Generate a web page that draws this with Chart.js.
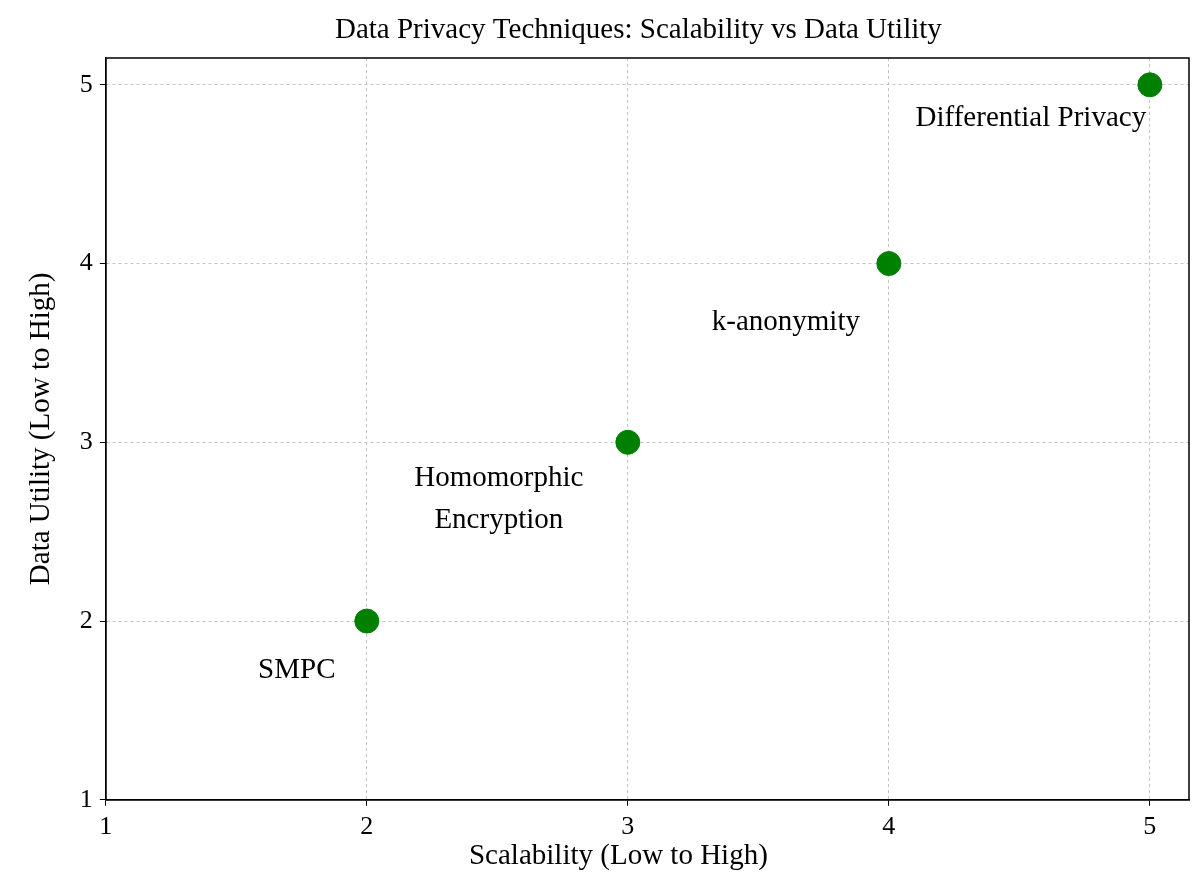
<!DOCTYPE html>
<html>
<head>
<meta charset="utf-8">
<script src="https://cdn.jsdelivr.net/npm/chart.js@4.4.1/dist/chart.umd.min.js"></script>
<style>
html,body{margin:0;padding:0;background:#fff;}
#wrap{width:1203px;height:877px;}
</style>
</head>
<body>
<div id="wrap"><canvas id="c" width="1203" height="877"></canvas></div>
<script>
const techniques = ["SMPC", "Homomorphic\nEncryption", "k-anonymity", "Differential Privacy"];
const scalability = [2, 3, 4, 5];
const dataUtility = [2, 3, 4, 5];
const tickValues = [1, 2, 3, 4, 5];
const chartTitle = 'Data Privacy Techniques: Scalability vs Data Utility';
const xTitle = 'Scalability (Low to High)';
const yTitle = 'Data Utility (Low to High)';
// label offsets in pixels (style only)
const labelOffsets = [[-70, 49], [-129, 36], [-103, 59], [-119, 34]];

const FONT = "'Liberation Serif', 'Times New Roman', 'DejaVu Serif', serif";

const labelPlugin = {
  id: 'labels',
  afterDatasetsDraw(chart) {
    const ctx = chart.ctx;
    const xs = chart.scales.x, ys = chart.scales.y;
    ctx.save();
    ctx.fillStyle = '#000';
    ctx.font = '29px ' + FONT;
    ctx.textAlign = 'center';
    ctx.textBaseline = 'middle';
    techniques.forEach((t, i) => {
      const px = xs.getPixelForValue(scalability[i]) + labelOffsets[i][0];
      const py = ys.getPixelForValue(dataUtility[i]) + labelOffsets[i][1];
      t.split('\n').forEach((line, j) => ctx.fillText(line, px, py + j * 42));
    });
    ctx.restore();
  }
};
const framePlugin = {
  id: 'frame',
  afterDraw(chart) {
    const a = chart.chartArea, ctx = chart.ctx;
    ctx.save();
    ctx.strokeStyle = '#000';
    ctx.lineWidth = 1.5;
    ctx.strokeRect(a.left, a.top, a.right - a.left, a.bottom - a.top);
    // chart title and x-axis title
    ctx.fillStyle = '#000';
    ctx.font = '29px ' + FONT;
    ctx.textAlign = 'center';
    ctx.textBaseline = 'middle';
    const cx = (a.left + a.right) / 2;
    ctx.fillText(chartTitle, cx - 9, a.top - 28);
    ctx.fillText(xTitle, cx - 29, a.bottom + 57);
    ctx.restore();
  }
};

const axisCommon = {
  type: 'linear',
  min: 1,
  max: 5.15,
  afterBuildTicks(scale) { scale.ticks = tickValues.map(v => ({value: v})); },
  grid: {
    color: '#c4c4c4',
    lineWidth: 1,
    drawTicks: true,
    tickLength: 6,
    tickColor: '#000',
    tickBorderDash: [],
  },
  border: { display: true, color: '#000', width: 1.5, dash: [3, 3] },
  ticks: { color: '#000', font: { family: FONT, size: 26 }, padding: 6 },
};

new Chart(document.getElementById('c'), {
  type: 'scatter',
  data: {
    datasets: [{
      data: scalability.map((x, i) => ({x: x, y: dataUtility[i]})),
      backgroundColor: '#008000',
      borderColor: '#008000',
      pointRadius: 12,
      pointHoverRadius: 12,
    }]
  },
  options: {
    responsive: false,
    animation: false,
    devicePixelRatio: 1,
    layout: { padding: { left: 24, right: 14, top: 58, bottom: 28 } },
    plugins: {
      legend: { display: false },
      tooltip: { enabled: false },
      title: { display: false }
    },
    scales: {
      x: Object.assign({}, axisCommon, {
        grid: Object.assign({}, axisCommon.grid)
      }),
      y: Object.assign({}, axisCommon, {
        grid: Object.assign({}, axisCommon.grid),
        ticks: Object.assign({}, axisCommon.ticks, { padding: 7 }),
        title: { display: true, text: yTitle, color: '#000',
                 font: { family: FONT, size: 29 }, padding: { top: 0, bottom: 14 } }
      })
    }
  },
  plugins: [labelPlugin, framePlugin]
});
</script>
</body>
</html>
